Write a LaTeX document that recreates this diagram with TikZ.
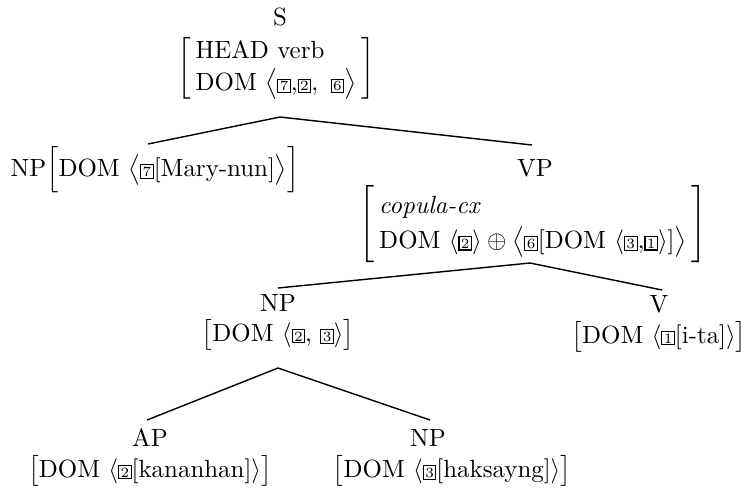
\RequirePackage{fix-cm}
\documentclass[tikz,border=0pt]{standalone}
\usepackage{amsmath}
\usetikzlibrary{calc}
\newcommand{\bx}[1]{{\setlength{\fboxsep}{0.6pt}\setlength{\fboxrule}{0.45pt}\fbox{\fontsize{6}{6}\selectfont #1}}}
\setlength{\arraycolsep}{2pt}
\begin{document}
\begin{tikzpicture}[x=0.4255pt,y=-0.4255pt,
  every node/.append style={font=\fontsize{10.6}{12.7}\selectfont},
  lab/.style={anchor=base,inner sep=0pt},
  avm/.style={inner sep=0pt},
  branch/.style={line width=0.6pt}]
\useasboundingbox (0,0) rectangle (746,489);
% S
\node[lab] (S) at (280,25) {S};
\node[avm] (Savm) at (276,68) {\renewcommand{\arraystretch}{1.08}$\left[\begin{array}{l}\text{HEAD verb}\\ \text{DOM }\bigl\langle\bx7{,}\bx2,\ \bx6\bigr\rangle\end{array}\right]$};
% NP Mary-nun
\node[lab] (NPa) at (155,176) {NP$\Bigl[\text{DOM }\bigl\langle\bx7[\text{Mary-nun}]\bigr\rangle\Bigr]$};
% VP
\node[lab] (VP) at (535,176) {VP};
\node[avm] (VPavm) at (533,224) {\renewcommand{\arraystretch}{1.15}$\left[\begin{array}{l}\textit{copula-cx}\\ \text{DOM }\langle\bx2\rangle\oplus\bigl\langle\bx6[\text{DOM }\langle\bx3{,}\bx1\rangle]\bigr\rangle\end{array}\right]$};
% NP middle
\node[lab] (NPb) at (278,311) {NP};
\node[lab] (NPbavm) at (278,341) {$\bigl[\text{DOM }\langle\bx2{,}\ \bx3\rangle\bigr]$};
% V
\node[lab] (V) at (659,312) {V};
\node[lab] (Vavm) at (659,343) {$\bigl[\text{DOM }\langle\bx1[\text{i-ta}]\rangle\bigr]$};
% AP
\node[lab] (AP) at (150,446) {AP};
\node[lab] (APavm) at (150,477) {$\bigl[\text{DOM }\langle\bx2[\text{kananhan}]\rangle\bigr]$};
% NP haksayng
\node[lab] (NPc) at (428,446) {NP};
\node[lab] (NPcavm) at (452,477) {$\bigl[\text{DOM }\langle\bx3[\text{haksayng}]\rangle\bigr]$};
% branch points
\coordinate (Sa) at (280,117);
\coordinate (SaL) at (148,144);
\coordinate (SaR) at (532,145);
\coordinate (VPa) at (530,263);
\coordinate (VPaL) at (278,288);
\coordinate (VPaR) at (662,290);
\coordinate (NPba) at (278,368);
\coordinate (NPbaL) at (147,420);
\coordinate (NPbaR) at (430,420);
\draw[branch] (SaL) -- (Sa) -- (SaR);
\draw[branch] (VPaL) -- (VPa) -- (VPaR);
\draw[branch] (NPbaL) -- (NPba) -- (NPbaR);
\end{tikzpicture}
\end{document}
